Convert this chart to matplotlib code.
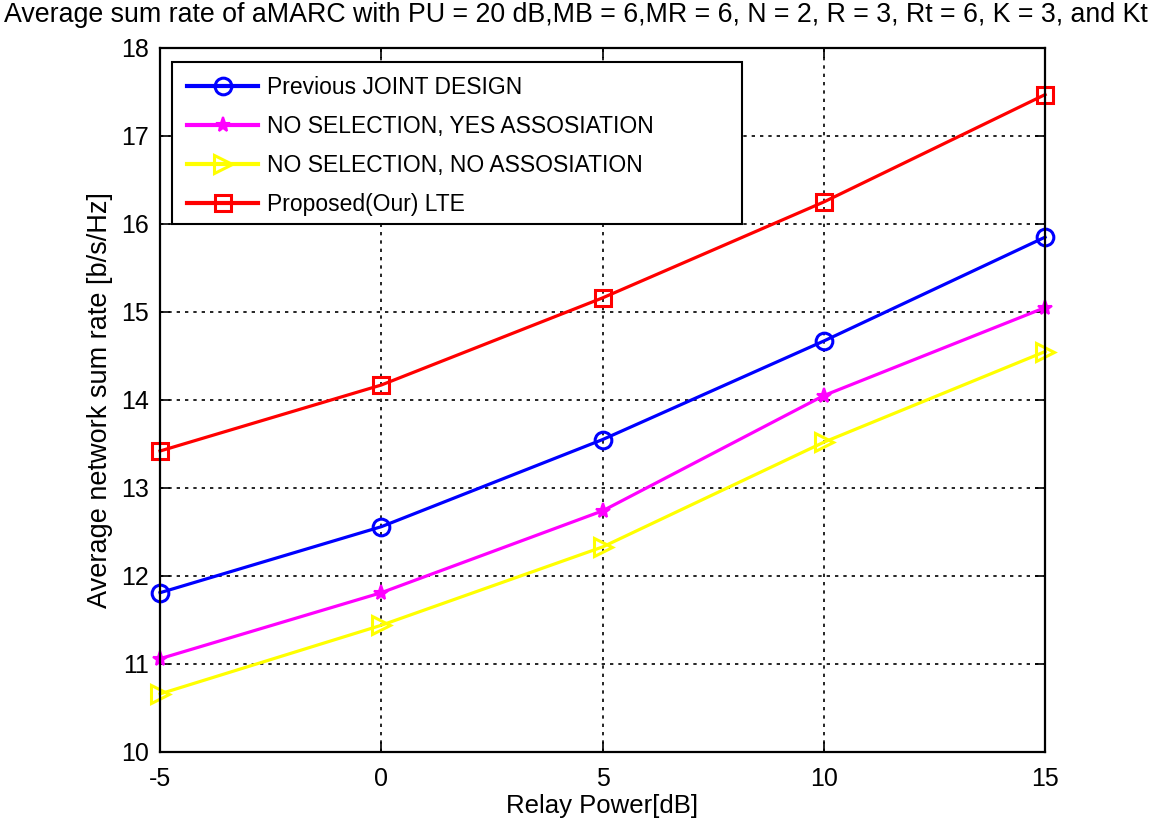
import numpy as np
import matplotlib
matplotlib.use("Agg")
import matplotlib.pyplot as plt
from matplotlib.patches import Rectangle

plt.rcParams["font.family"] = ["Liberation Sans", "DejaVu Sans"]
plt.rcParams["axes.unicode_minus"] = False

# Data
relay_power = [-5, 0, 5, 10, 15]
joint_design = [11.81, 12.56, 13.55, 14.67, 15.85]
no_sel_yes_assoc = [11.06, 11.81, 12.74, 14.05, 15.05]
no_sel_no_assoc = [10.66, 11.44, 12.33, 13.52, 14.55]
proposed_lte = [13.42, 14.17, 15.16, 16.25, 17.47]

labels = ["Previous JOINT DESIGN", "NO SELECTION, YES ASSOSIATION",
          "NO SELECTION, NO ASSOSIATION", "Proposed(Our) LTE"]

title = ("Average sum rate of aMARC with PU = 20 dB,MB = 6,MR = 6, N = 2, "
         "R = 3, Rt = 6, K = 3, and Kt")

fig = plt.figure(figsize=(11.63, 8.27), dpi=100)
ax = fig.add_axes([0.1376, 0.0907, 0.761, 0.8513])

lw = 2.3
common = dict(linewidth=lw, clip_on=False, zorder=3)
ax.plot(relay_power, joint_design, color="#0000ff", marker="o", markersize=12,
        markerfacecolor="none", markeredgewidth=2.2, label=labels[0], **common)
ax.plot(relay_power, no_sel_yes_assoc, color="#ff00ff", marker="*", markersize=11,
        markeredgewidth=1.5, label=labels[1], **common)
ax.plot(relay_power, no_sel_no_assoc, color="#ffff00", marker=">", markersize=13,
        markerfacecolor="none", markeredgewidth=2.2, label=labels[2], **common)
ax.plot(relay_power, proposed_lte, color="#ff0000", marker="s", markersize=12,
        markerfacecolor="none", markeredgewidth=2.2, label=labels[3], **common)

ax.set_xlim(-5, 15)
ax.set_ylim(10, 18)
ax.set_xticks([-5, 0, 5, 10, 15])
ax.set_yticks(np.arange(10, 19, 1))
ax.tick_params(direction="in", top=True, right=True, length=7, width=1.2,
               labelsize=18)
ax.tick_params(axis="x", pad=11)
ax.tick_params(axis="y", pad=8)
ax.grid(True, color="black", linestyle=(0, (2, 3)), linewidth=1.2)
for s in ax.spines.values():
    s.set_linewidth(1.6)
    s.set_zorder(4)

ax.set_xlabel("Relay Power[dB]", fontsize=18.5, labelpad=2)
ax.set_ylabel("Average network sum rate [b/s/Hz]", fontsize=19.5, labelpad=6)
fig.text(4 / 1163, 1 - 22 / 827, title, fontsize=19.3, ha="left", va="baseline")

# MATLAB-style legend box with wide right padding
box = Rectangle((172 / 1163, 1 - 224 / 827), 570 / 1163, 162 / 827,
                transform=fig.transFigure, facecolor="white",
                edgecolor="black", linewidth=1.5, zorder=5, clip_on=False)
ax.add_patch(box)
leg = ax.legend(loc="upper left", bbox_to_anchor=(187 / 1163, 1 - 76 / 827),
                bbox_transform=fig.transFigure, fontsize=16.5, frameon=False,
                handlelength=3.1, handletextpad=0.4, borderpad=0.0,
                labelspacing=0.7, borderaxespad=0)
leg.set_zorder(6)
for h in leg.get_lines():
    h.set_linewidth(3)

fig.savefig("out.png", dpi=100)
